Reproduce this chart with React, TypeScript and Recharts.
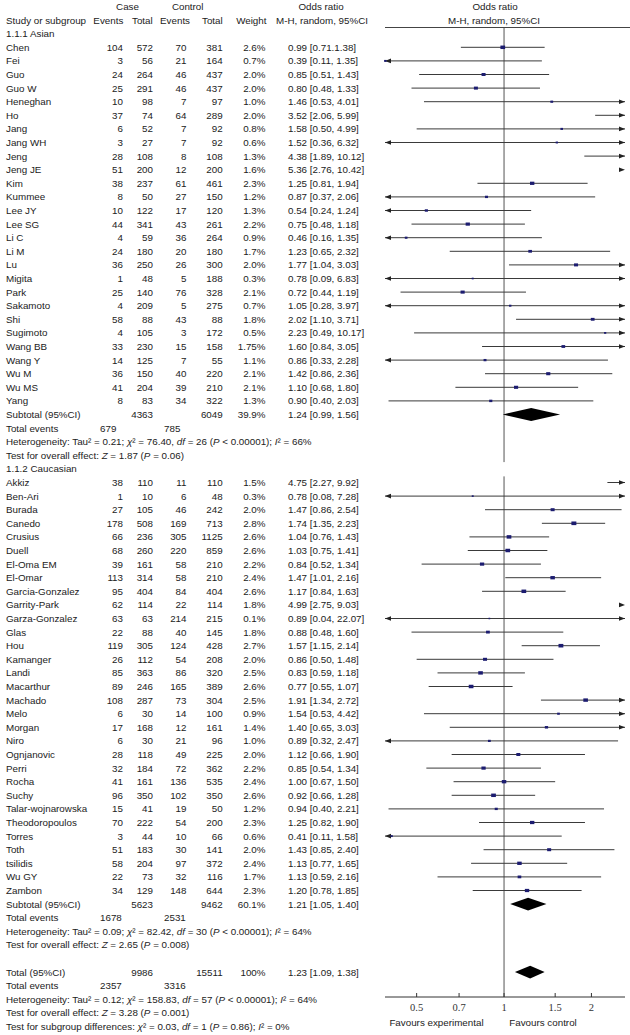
import React from 'react';
import { ScatterChart, Scatter, XAxis, YAxis, ReferenceLine } from 'recharts';

// ---------- DATA ----------
const asianNames = ['Chen', 'Fei', 'Guo', 'Guo W', 'Heneghan', 'Ho', 'Jang', 'Jang WH', 'Jeng', 'Jeng JE', 'Kim', 'Kummee', 'Lee JY', 'Lee SG', 'Li C', 'Li M', 'Lu', 'Migita', 'Park', 'Sakamoto', 'Shi', 'Sugimoto', 'Wang BB', 'Wang Y', 'Wu M', 'Wu MS', 'Yang'];
const asianCaseEvents = [104, 3, 24, 25, 10, 37, 6, 3, 28, 51, 38, 8, 10, 44, 4, 24, 36, 1, 25, 4, 58, 4, 33, 14, 36, 41, 8];
const asianCaseTotals = [572, 56, 264, 291, 98, 74, 52, 27, 108, 200, 237, 50, 122, 341, 59, 180, 250, 48, 140, 209, 88, 105, 230, 125, 150, 204, 83];
const asianCtrlEvents = [70, 21, 46, 46, 7, 64, 7, 7, 8, 12, 61, 27, 17, 43, 36, 20, 26, 5, 76, 5, 43, 3, 15, 7, 40, 39, 34];
const asianCtrlTotals = [381, 164, 437, 437, 97, 289, 92, 92, 108, 200, 461, 150, 120, 261, 264, 180, 300, 188, 328, 275, 88, 172, 158, 55, 220, 210, 322];
const asianWeights = ['2.6%', '0.7%', '2.0%', '2.0%', '1.0%', '2.0%', '0.8%', '0.6%', '1.3%', '1.6%', '2.3%', '1.2%', '1.3%', '2.2%', '0.9%', '1.7%', '2.0%', '0.3%', '2.1%', '0.7%', '1.8%', '0.5%', '1.75%', '1.1%', '2.1%', '2.1%', '1.3%'];
const asianOR = [0.99, 0.39, 0.85, 0.80, 1.46, 3.52, 1.58, 1.52, 4.38, 5.36, 1.25, 0.87, 0.54, 0.75, 0.46, 1.23, 1.77, 0.78, 0.72, 1.05, 2.02, 2.23, 1.60, 0.86, 1.42, 1.10, 0.90];
const asianLow = [0.71, 0.11, 0.51, 0.48, 0.53, 2.06, 0.50, 0.36, 1.89, 2.76, 0.81, 0.37, 0.24, 0.48, 0.16, 0.65, 1.04, 0.09, 0.44, 0.28, 1.10, 0.49, 0.84, 0.33, 0.86, 0.68, 0.40];
const asianHigh = [1.38, 1.35, 1.43, 1.33, 4.01, 5.99, 4.99, 6.32, 10.12, 10.42, 1.94, 2.06, 1.24, 1.18, 1.35, 2.32, 3.03, 6.83, 1.19, 3.97, 3.71, 10.17, 3.05, 2.28, 2.36, 1.80, 2.03];
const asianLabels = ['0.99 [0.71.1.38]', '0.39 [0.11, 1.35]', '0.85 [0.51, 1.43]', '0.80 [0.48, 1.33]', '1.46 [0.53, 4.01]', '3.52 [2.06, 5.99]', '1.58 [0.50, 4.99]', '1.52 [0.36, 6.32]', '4.38 [1.89, 10.12]', '5.36 [2.76, 10.42]', '1.25 [0.81, 1.94]', '0.87 [0.37, 2.06]', '0.54 [0.24, 1.24]', '0.75 [0.48, 1.18]', '0.46 [0.16, 1.35]', '1.23 [0.65, 2.32]', '1.77 [1.04, 3.03]', '0.78 [0.09, 6.83]', '0.72 [0.44, 1.19]', '1.05 [0.28, 3.97]', '2.02 [1.10, 3.71]', '2.23 [0.49, 10.17]', '1.60 [0.84, 3.05]', '0.86 [0.33, 2.28]', '1.42 [0.86, 2.36]', '1.10 [0.68, 1.80]', '0.90 [0.40, 2.03]'];

const caucNames = ['Akkiz', 'Ben-Ari', 'Burada', 'Canedo', 'Crusius', 'Duell', 'El-Oma EM', 'El-Omar', 'Garcia-Gonzalez', 'Garrity-Park', 'Garza-Gonzalez', 'Glas', 'Hou', 'Kamanger', 'Landi', 'Macarthur', 'Machado', 'Melo', 'Morgan', 'Niro', 'Ognjanovic', 'Perri', 'Rocha', 'Suchy', 'Talar-wojnarowska', 'Theodoropoulos', 'Torres', 'Toth', 'tsilidis', 'Wu GY', 'Zambon'];
const caucCaseEvents = [38, 1, 27, 178, 66, 68, 39, 113, 95, 62, 63, 22, 119, 26, 85, 89, 108, 6, 17, 6, 28, 32, 41, 96, 15, 70, 3, 51, 58, 22, 34];
const caucCaseTotals = [110, 10, 105, 508, 236, 260, 161, 314, 404, 114, 63, 88, 305, 112, 363, 246, 287, 30, 168, 30, 118, 184, 161, 350, 41, 222, 44, 183, 204, 73, 129];
const caucCtrlEvents = [11, 6, 46, 169, 305, 220, 58, 58, 84, 22, 214, 40, 124, 54, 86, 165, 73, 14, 12, 21, 49, 72, 136, 102, 19, 54, 10, 30, 97, 32, 148];
const caucCtrlTotals = [110, 48, 242, 713, 1125, 859, 210, 210, 404, 114, 215, 145, 428, 208, 320, 389, 304, 100, 161, 96, 225, 362, 535, 350, 50, 200, 66, 141, 372, 116, 644];
const caucWeights = ['1.5%', '0.3%', '2.0%', '2.8%', '2.6%', '2.6%', '2.2%', '2.4%', '2.6%', '1.8%', '0.1%', '1.8%', '2.7%', '2.0%', '2.5%', '2.6%', '2.5%', '0.9%', '1.4%', '1.0%', '2.0%', '2.2%', '2.4%', '2.6%', '1.2%', '2.3%', '0.6%', '2.0%', '2.4%', '1.7%', '2.3%'];
const caucOR = [4.75, 0.78, 1.47, 1.74, 1.04, 1.03, 0.84, 1.47, 1.17, 4.99, 0.89, 0.88, 1.57, 0.86, 0.83, 0.77, 1.91, 1.54, 1.40, 0.89, 1.12, 0.85, 1.00, 0.92, 0.94, 1.25, 0.41, 1.43, 1.13, 1.13, 1.20];
const caucLow = [2.27, 0.08, 0.86, 1.35, 0.76, 0.75, 0.52, 1.01, 0.84, 2.75, 0.04, 0.48, 1.15, 0.50, 0.59, 0.55, 1.34, 0.53, 0.65, 0.32, 0.66, 0.54, 0.67, 0.66, 0.40, 0.82, 0.11, 0.85, 0.77, 0.59, 0.78];
const caucHigh = [9.92, 7.28, 2.54, 2.23, 1.43, 1.41, 1.34, 2.16, 1.63, 9.03, 22.07, 1.60, 2.14, 1.48, 1.18, 1.07, 2.72, 4.42, 3.03, 2.47, 1.90, 1.34, 1.50, 1.28, 2.21, 1.90, 1.58, 2.40, 1.65, 2.16, 1.85];
const caucLabels = ['4.75 [2.27, 9.92]', '0.78 [0.08, 7.28]', '1.47 [0.86, 2.54]', '1.74 [1.35, 2.23]', '1.04 [0.76, 1.43]', '1.03 [0.75, 1.41]', '0.84 [0.52, 1.34]', '1.47 [1.01, 2.16]', '1.17 [0.84, 1.63]', '4.99 [2.75, 9.03]', '0.89 [0.04, 22.07]', '0.88 [0.48, 1.60]', '1.57 [1.15, 2.14]', '0.86 [0.50, 1.48]', '0.83 [0.59, 1.18]', '0.77 [0.55, 1.07]', '1.91 [1.34, 2.72]', '1.54 [0.53, 4.42]', '1.40 [0.65, 3.03]', '0.89 [0.32, 2.47]', '1.12 [0.66, 1.90]', '0.85 [0.54, 1.34]', '1.00 [0.67, 1.50]', '0.92 [0.66, 1.28]', '0.94 [0.40, 2.21]', '1.25 [0.82, 1.90]', '0.41 [0.11, 1.58]', '1.43 [0.85, 2.40]', '1.13 [0.77, 1.65]', '1.13 [0.59, 2.16]', '1.20 [0.78, 1.85]'];

// pooled estimates: Asian subtotal, Caucasian subtotal, Total
const pooledNames = ['Subtotal (95%CI)', 'Subtotal (95%CI)', 'Total (95%CI)'];
const pooledCaseTotals = [4363, 5623, 9986];
const pooledCtrlTotals = [6049, 9462, 15511];
const pooledCaseEvents = [679, 1678, 2357];
const pooledCtrlEvents = [785, 2531, 3316];
const pooledWeights = ['39.9%', '60.1%', '100%'];
const pooledOR = [1.24, 1.21, 1.23];
const pooledLow = [0.99, 1.05, 1.09];
const pooledHigh = [1.56, 1.40, 1.38];
const pooledLabels = ['1.24 [0.99, 1.56]', '1.21 [1.05, 1.40]', '1.23 [1.09, 1.38]'];
const hetTau = ['0.21', '0.09', '0.12'];
const hetChi = ['76.40', '82.42', '158.83'];
const hetDf = ['26', '30', '57'];
const hetI2 = ['66%', '64%', '64%'];
const overallZ = ['1.87', '2.65', '3.28'];
const overallP = ['0.06', '0.008', '0.001'];

const xTicks = [0.5, 0.7, 1, 1.5, 2];
const xDomain = [0.389, 2.61];

// ---------- LAYOUT ----------
const W = 630;
const H = 1035;
const PLOT_L = 385;
const PLOT_R = 625;
const PLOT_T = 28;
const PLOT_B = 997;
const ROW0 = 47.3;
const ROWH = 13.6;
const Y0 = (PLOT_T - ROW0) / ROWH;
const Y1 = (PLOT_B - ROW0) / ROWH;
const rowY = (r: number) => ROW0 + ROWH * r;

const ASIAN_START = 0;
const CAUC_START = 32;
const pooledRows = [27, 63, 68];

const FONT = '"Liberation Sans", Arial, sans-serif';
const FS = 9.8;
const TXT = '#222';

type Study = { r: number; name: string; ce: number; ct: number; ke: number; kt: number; w: string; or: number; lo: number; hi: number; label: string };

const studies: Study[] = [
  ...asianNames.map((n, i) => ({ r: ASIAN_START + i, name: n, ce: asianCaseEvents[i], ct: asianCaseTotals[i], ke: asianCtrlEvents[i], kt: asianCtrlTotals[i], w: asianWeights[i], or: asianOR[i], lo: asianLow[i], hi: asianHigh[i], label: asianLabels[i] })),
  ...caucNames.map((n, i) => ({ r: CAUC_START + i, name: n, ce: caucCaseEvents[i], ct: caucCaseTotals[i], ke: caucCtrlEvents[i], kt: caucCtrlTotals[i], w: caucWeights[i], or: caucOR[i], lo: caucLow[i], hi: caucHigh[i], label: caucLabels[i] })),
];

const [MIN, MAX] = xDomain;
const clamp = (v: number) => Math.min(MAX, Math.max(MIN, v));

const ciData = studies.flatMap((s) => [
  { x: clamp(s.lo), y: s.r, arrow: s.lo < MIN ? 'left' : null },
  { x: clamp(s.hi), y: s.r, arrow: s.hi > MAX ? 'right' : null },
]);

const markerData = studies
  .filter((s) => s.or >= MIN && s.or <= MAX)
  .map((s) => ({ x: s.or, y: s.r, w: parseFloat(s.w) }));

const diamondData = pooledRows.map((r, i) => [
  { x: pooledLow[i], y: r },
  { x: pooledOR[i], y: r - 0.47 },
  { x: pooledHigh[i], y: r },
  { x: pooledOR[i], y: r + 0.47 },
]);

// ---------- RENDER HELPERS ----------
const pairLines = (props: any) => {
  const pts = props.points || [];
  const segs: any[] = [];
  for (let i = 0; i + 1 < pts.length; i += 2) {
    segs.push(<line key={i} x1={pts[i].x} y1={pts[i].y} x2={pts[i + 1].x} y2={pts[i + 1].y} stroke="#3a3a3a" strokeWidth={1} />);
  }
  return <g>{segs}</g>;
};

const arrowShape = (props: any) => {
  const { cx, cy, payload } = props;
  if (!payload || !payload.arrow) return <g />;
  if (payload.arrow === 'left') {
    return <polygon points={`${cx},${cy} ${cx + 6},${cy - 2.3} ${cx + 6},${cy + 2.3}`} fill="#222" />;
  }
  return <polygon points={`${cx},${cy} ${cx - 6},${cy - 2.3} ${cx - 6},${cy + 2.3}`} fill="#222" />;
};

const markerShape = (props: any) => {
  const { cx, cy, payload } = props;
  const w = 1.6 + 1.2 * payload.w;
  const h = 1.4 + 0.8 * payload.w;
  return <rect x={cx - w / 2} y={cy - h / 2} width={w} height={h} fill="#1c1c70" />;
};

const diamondPoly = (props: any) => {
  const pts = props.points || [];
  return <polygon points={pts.map((p: any) => `${p.x},${p.y}`).join(' ')} fill="#000" />;
};

const noShape = () => <g />;

const AxisTick = (props: any) => {
  const { x, y, payload } = props;
  return (
    <g>
      <line x1={x} y1={y} x2={x} y2={y - 4} stroke="#333" />
      <text x={x} y={y + 14} textAnchor="middle" fontFamily='"Liberation Serif", serif' fontSize={10.5} fill="#333">
        {String(payload.value)}
      </text>
    </g>
  );
};

const T = (p: { x: number; y: number; a?: 'start' | 'middle' | 'end'; children: any; fs?: number }) => (
  <text x={p.x} y={p.y} textAnchor={p.a || 'start'} fontFamily={FONT} fontSize={p.fs || FS} fill={TXT}>
    {p.children}
  </text>
);

const I = (s: string) => <tspan fontStyle="italic">{s}</tspan>;

const COL = { name: 6, ce: 123, ct: 153, ke: 186.5, kt: 222.7, w: 265.5, or: 288 };
const base = (r: number) => rowY(r) + 3.5;

function Table() {
  const items: any[] = [];
  // headers
  items.push(<T key="h1" x={127.5} y={9.5} a="middle">Case</T>);
  items.push(<T key="h2" x={187.7} y={9.5} a="middle">Control</T>);
  items.push(<T key="h3" x={321} y={9.5} a="middle">Odds ratio</T>);
  items.push(<T key="h4" x={495} y={9.5} a="middle">Odds ratio</T>);
  items.push(<T key="h5" x={6} y={24.2}>Study or subgroup</T>);
  items.push(<T key="h6" x={123.3} y={24.2} a="end">Events</T>);
  items.push(<T key="h7" x={152.7} y={24.2} a="end">Total</T>);
  items.push(<T key="h8" x={190} y={24.2} a="end">Events</T>);
  items.push(<T key="h9" x={222.7} y={24.2} a="end">Total</T>);
  items.push(<T key="h10" x={266.5} y={24.2} a="end">Weight</T>);
  items.push(<T key="h11" x={322} y={24.2} a="middle">M-H, random, 95%CI</T>);
  items.push(<T key="h12" x={494} y={24.2} a="middle">M-H, random, 95%CI</T>);
  items.push(<line key="hl" x1={PLOT_L} y1={27.5} x2={W} y2={27.5} stroke="#444" strokeWidth={1} />);

  items.push(<T key="g1" x={COL.name} y={base(-1)}>1.1.1 Asian</T>);
  items.push(<T key="g2" x={COL.name} y={base(31)}>1.1.2 Caucasian</T>);

  studies.forEach((s) => {
    const y = base(s.r);
    items.push(
      <g key={'s' + s.r}>
        <T x={COL.name} y={y}>{s.name}</T>
        <T x={COL.ce} y={y} a="end">{s.ce}</T>
        <T x={COL.ct} y={y} a="end">{s.ct}</T>
        <T x={COL.ke} y={y} a="end">{s.ke}</T>
        <T x={COL.kt} y={y} a="end">{s.kt}</T>
        <T x={COL.w} y={y} a="end">{s.w}</T>
        <T x={COL.or} y={y}>{s.label}</T>
      </g>
    );
  });

  pooledRows.forEach((r, i) => {
    const y = base(r);
    items.push(
      <g key={'p' + i}>
        <T x={COL.name} y={y}>{pooledNames[i]}</T>
        <T x={COL.ct} y={y} a="end">{pooledCaseTotals[i]}</T>
        <T x={COL.kt} y={y} a="end">{pooledCtrlTotals[i]}</T>
        <T x={COL.w} y={y} a="end">{pooledWeights[i]}</T>
        <T x={COL.or} y={y}>{pooledLabels[i]}</T>
        <T x={COL.name} y={base(r + 1)}>Total events</T>
        <T x={100} y={base(r + 1)}>{pooledCaseEvents[i]}</T>
        <T x={164} y={base(r + 1)}>{pooledCtrlEvents[i]}</T>
        <T x={COL.name} y={base(r + 2)}>
          {'Heterogeneity: Tau² = ' + hetTau[i] + '; '}
          {I('χ')}
          {'² = ' + hetChi[i] + ', '}
          {I('df')}
          {' = ' + hetDf[i] + ' ('}
          {I('P')}
          {' < 0.00001); '}
          {I('I')}
          {'² = ' + hetI2[i]}
        </T>
        <T x={COL.name} y={base(r + 3)}>
          {'Test for overall effect: '}
          {I('Z')}
          {' = ' + overallZ[i] + ' ('}
          {I('P')}
          {' = ' + overallP[i] + ')'}
        </T>
      </g>
    );
  });

  items.push(
    <T key="sg" x={COL.name} y={base(72)}>
      {'Test for subgroup differences: '}
      {I('χ')}
      {'² = 0.03, '}
      {I('df')}
      {' = 1 ('}
      {I('P')}
      {' = 0.86); '}
      {I('I')}
      {'² = 0%'}
    </T>
  );

  items.push(<T key="fe" x={436.5} y={1025.5} a="middle">Favours experimental</T>);
  items.push(<T key="fc" x={543} y={1025.5} a="middle">Favours control</T>);

  return (
    <svg width={W} height={H} style={{ position: 'absolute', left: 0, top: 0, pointerEvents: 'none' }}>
      {items}
    </svg>
  );
}

export default function App() {
  return (
    <div style={{ position: 'absolute', left: 0, top: 0, width: W, height: H, background: '#fff' }}>
      <div style={{ position: 'absolute', left: 0, top: 0 }}>
        <ScatterChart width={W} height={H} margin={{ top: PLOT_T, right: W - PLOT_R, left: PLOT_L, bottom: 0 }}>
          <XAxis
            dataKey="x"
            type="number"
            scale="log"
            domain={xDomain}
            ticks={xTicks}
            interval={0}
            height={H - PLOT_B}
            tickSize={0}
            tickMargin={0}
            tickLine={false}
            axisLine={{ stroke: '#333' }}
            tick={<AxisTick />}
          />
          <YAxis dataKey="y" type="number" domain={[Y0, Y1]} reversed hide />
          <ReferenceLine ifOverflow="visible" segment={[{ x: 1, y: Y0 }, { x: 1, y: 30.5 }]} stroke="#555" strokeWidth={1} />
          <ReferenceLine ifOverflow="visible" segment={[{ x: 1, y: 31.55 }, { x: 1, y: Y1 }]} stroke="#555" strokeWidth={1} />
          <Scatter data={ciData} line={pairLines} shape={arrowShape} isAnimationActive={false} />
          <Scatter data={markerData} shape={markerShape} isAnimationActive={false} />
          {diamondData.map((d, i) => (
            <Scatter key={i} data={d} line={diamondPoly} shape={noShape} isAnimationActive={false} />
          ))}
        </ScatterChart>
      </div>
      <Table />
    </div>
  );
}
